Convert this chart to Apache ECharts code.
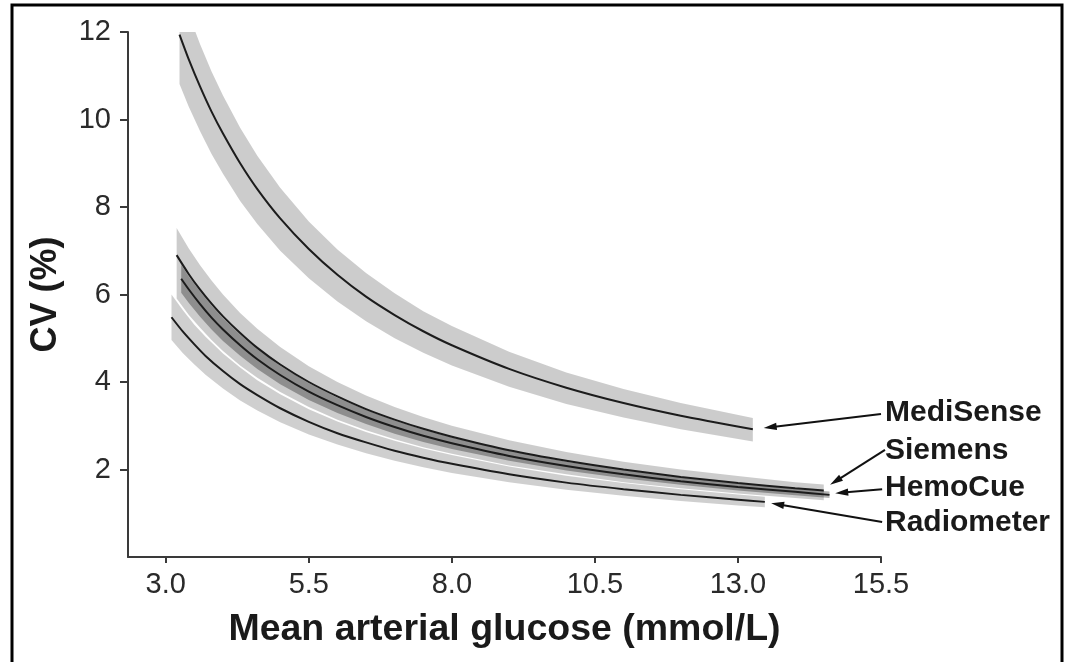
<!DOCTYPE html>
<html>
<head>
<meta charset="utf-8">
<script src="https://cdn.jsdelivr.net/npm/echarts@6/dist/echarts.min.js"></script>
<style>
  html, body { margin: 0; padding: 0; background: #ffffff; }
  #chart { width: 1068px; height: 662px; }
</style>
</head>
<body>
<div id="chart"></div>
<script>
// Axis ticks
const xTicks = [3.0, 5.5, 8.0, 10.5, 13.0, 15.5];
const yTicks = [2, 4, 6, 8, 10, 12];

// MediSense: mean arterial glucose (mmol/L), fitted CV (%) and its band
const mediSenseGlucose = [3.24, 3.4, 3.6, 3.8, 4.0, 4.3, 4.6, 5.0, 5.5, 6.0, 6.5, 7.0, 7.5, 8.0, 9.0, 10.0, 11.0, 12.0, 13.26];
const mediSenseCV      = [11.94, 11.38, 10.75, 10.18, 9.68, 9.00, 8.41, 7.74, 7.04, 6.45, 5.95, 5.53, 5.16, 4.84, 4.30, 3.87, 3.52, 3.23, 2.92];
const mediSenseLow     = [10.81, 10.30, 9.73, 9.21, 8.76, 8.14, 7.61, 7.00, 6.37, 5.84, 5.39, 5.00, 4.67, 4.38, 3.89, 3.50, 3.19, 2.92, 2.64];
const mediSenseHigh    = [13.02, 12.41, 11.72, 11.10, 10.55, 9.81, 9.17, 8.44, 7.67, 7.03, 6.49, 6.03, 5.62, 5.28, 4.69, 4.22, 3.84, 3.52, 3.18];

// Siemens
const siemensGlucose = [3.19, 3.4, 3.6, 3.8, 4.0, 4.3, 4.6, 5.0, 5.5, 6.0, 6.5, 7.0, 7.5, 8.0, 9.0, 10.0, 11.0, 12.0, 13.0, 14.0, 14.5];
const siemensCV      = [6.90, 6.47, 6.11, 5.79, 5.50, 5.12, 4.78, 4.40, 4.00, 3.67, 3.38, 3.14, 2.93, 2.75, 2.44, 2.20, 2.00, 1.83, 1.69, 1.57, 1.52];
const siemensLow     = [5.91, 5.54, 5.24, 4.96, 4.71, 4.38, 4.10, 3.77, 3.43, 3.14, 2.90, 2.69, 2.51, 2.36, 2.09, 1.89, 1.71, 1.57, 1.45, 1.35, 1.30];
const siemensHigh    = [7.52, 7.06, 6.67, 6.32, 6.00, 5.58, 5.22, 4.80, 4.36, 4.00, 3.69, 3.43, 3.20, 3.00, 2.67, 2.40, 2.18, 2.00, 1.85, 1.71, 1.66];

// HemoCue
const hemoCueGlucose = [3.27, 3.4, 3.6, 3.8, 4.0, 4.3, 4.6, 5.0, 5.5, 6.0, 6.5, 7.0, 7.5, 8.0, 9.0, 10.0, 11.0, 12.0, 13.0, 14.0, 14.6];
const hemoCueCV      = [6.36, 6.12, 5.78, 5.47, 5.20, 4.84, 4.52, 4.16, 3.78, 3.47, 3.20, 2.97, 2.77, 2.60, 2.31, 2.08, 1.89, 1.73, 1.60, 1.49, 1.42];
const hemoCueLow     = [6.04, 5.81, 5.49, 5.20, 4.94, 4.60, 4.30, 3.95, 3.59, 3.29, 3.04, 2.82, 2.63, 2.47, 2.20, 1.98, 1.80, 1.65, 1.52, 1.41, 1.35];
const hemoCueHigh    = [6.68, 6.42, 6.07, 5.75, 5.46, 5.08, 4.75, 4.37, 3.97, 3.64, 3.36, 3.12, 2.91, 2.73, 2.43, 2.18, 1.99, 1.82, 1.68, 1.56, 1.50];

// Radiometer
const radiometerGlucose = [3.10, 3.3, 3.5, 3.7, 4.0, 4.3, 4.6, 5.0, 5.5, 6.0, 6.5, 7.0, 7.5, 8.0, 9.0, 10.0, 11.0, 12.0, 13.0, 13.47];
const radiometerCV      = [5.48, 5.15, 4.86, 4.59, 4.25, 3.95, 3.70, 3.40, 3.09, 2.83, 2.62, 2.43, 2.27, 2.13, 1.89, 1.70, 1.55, 1.42, 1.31, 1.26];
const radiometerLow     = [4.96, 4.66, 4.40, 4.16, 3.85, 3.58, 3.35, 3.08, 2.80, 2.57, 2.37, 2.20, 2.05, 1.92, 1.71, 1.54, 1.40, 1.28, 1.18, 1.14];
const radiometerHigh    = [6.00, 5.64, 5.31, 5.03, 4.65, 4.33, 4.04, 3.72, 3.38, 3.10, 2.86, 2.66, 2.48, 2.33, 2.07, 1.86, 1.69, 1.55, 1.43, 1.38];

// Callout text and arrows (data units: glucose, CV)
const calloutNames = ['MediSense', 'Siemens', 'HemoCue', 'Radiometer'];
const calloutTextAt = [[15.57, 3.29], [15.57, 2.42], [15.57, 1.58], [15.57, 0.78]];
const calloutTail   = [[15.50, 3.27], [15.57, 2.45], [15.52, 1.55], [15.52, 0.80]];
const calloutHead   = [[13.45, 2.95], [14.61, 1.65], [14.70, 1.46], [13.58, 1.23]];

const FONT = '"Liberation Sans", Arial, Helvetica, sans-serif';
const INK = '#1c1c1c';
const AXIS = '#3a3a3a';

function pairs(xs, ys) { return xs.map((x, i) => [x, ys[i]]); }

// Shaded band between the low and high curves, drawn as one polygon
function bandSeries(id, xs, lo, hi, fill, z) {
  return {
    name: id + ' band', type: 'custom', silent: true, z: z,
    data: [[xs[0], lo[0]]],
    encode: { x: 0, y: 1 },
    renderItem: function (params, api) {
      const pts = [];
      for (let i = 0; i < xs.length; i++) pts.push(api.coord([xs[i], hi[i]]));
      for (let i = xs.length - 1; i >= 0; i--) pts.push(api.coord([xs[i], lo[i]]));
      const cs = params.coordSys;
      return {
        type: 'polygon',
        shape: { points: pts },
        style: { fill: fill },
        clipPath: { type: 'rect', shape: { x: cs.x, y: cs.y, width: cs.width, height: cs.height } }
      };
    }
  };
}

function curveSeries(id, xs, ys) {
  return {
    name: id, type: 'line', data: pairs(xs, ys),
    symbol: 'none', smooth: 0.25,
    lineStyle: { color: INK, width: 2 }, z: 10
  };
}

const chart = echarts.init(document.getElementById('chart'), null, { renderer: 'canvas' });

chart.setOption({
  animation: false,
  backgroundColor: '#ffffff',
  grid: { left: 128, right: 187, top: 32, bottom: 105, containLabel: false },
  xAxis: {
    type: 'value', min: 2.34, max: 15.5,
    name: 'Mean arterial glucose (mmol/L)',
    nameLocation: 'middle', nameGap: 54,
    nameTextStyle: { fontFamily: FONT, fontSize: 37.5, fontWeight: 'bold', color: '#1a1a1a' },
    axisLine: { show: true, onZero: false, lineStyle: { color: AXIS, width: 2 } },
    axisTick: { show: true, length: 6, customValues: xTicks, lineStyle: { color: AXIS, width: 2 } },
    axisLabel: {
      customValues: xTicks, margin: 13, fontFamily: FONT, fontSize: 29, color: '#2a2a2a',
      formatter: v => Number(v).toFixed(1)
    },
    splitLine: { show: false }
  },
  yAxis: {
    type: 'value', min: 0, max: 12,
    name: 'CV (%)',
    nameLocation: 'middle', nameGap: 64,
    nameTextStyle: { fontFamily: FONT, fontSize: 36, fontWeight: 'bold', color: '#1a1a1a' },
    axisLine: { show: true, onZero: false, lineStyle: { color: AXIS, width: 2 } },
    axisTick: { show: true, length: 8, customValues: yTicks, lineStyle: { color: AXIS, width: 2 } },
    axisLabel: {
      customValues: yTicks, margin: 17, fontFamily: FONT, fontSize: 29, color: '#2a2a2a',
      formatter: v => String(v)
    },
    splitLine: { show: false }
  },
  series: [
    bandSeries('MediSense', mediSenseGlucose, mediSenseLow, mediSenseHigh, 'rgba(0,0,0,0.2)', 1),
    bandSeries('Radiometer', radiometerGlucose, radiometerLow, radiometerHigh, 'rgba(0,0,0,0.19)', 2),
    bandSeries('Siemens', siemensGlucose, siemensLow, siemensHigh, 'rgba(0,0,0,0.2)', 3),
    bandSeries('HemoCue', hemoCueGlucose, hemoCueLow, hemoCueHigh, 'rgba(0,0,0,0.3)', 4),
    curveSeries('MediSense', mediSenseGlucose, mediSenseCV),
    curveSeries('Siemens', siemensGlucose, siemensCV),
    curveSeries('HemoCue', hemoCueGlucose, hemoCueCV),
    curveSeries('Radiometer', radiometerGlucose, radiometerCV)
  ]
});

// Callouts and frame, placed through the grid's own scales
function toPx(p) { return chart.convertToPixel({ gridIndex: 0 }, p); }

const graphics = [
  {
    type: 'rect', silent: true, z: 100,
    shape: { x: 12, y: 5, width: 1050, height: 700 },
    style: { fill: 'none', stroke: '#000000', lineWidth: 3 }
  }
];

calloutNames.forEach((name, i) => {
  const t = toPx(calloutTextAt[i]);
  const a = toPx(calloutTail[i]);
  const b = toPx(calloutHead[i]);
  const dx = b[0] - a[0], dy = b[1] - a[1];
  const len = Math.hypot(dx, dy);
  const ux = dx / len, uy = dy / len;
  const headLen = 13, headHalf = 3.6;
  const baseX = b[0] - ux * headLen, baseY = b[1] - uy * headLen;
  graphics.push({
    type: 'line', silent: true, z: 50,
    shape: { x1: a[0], y1: a[1], x2: baseX + ux * 2, y2: baseY + uy * 2 },
    style: { stroke: '#111111', lineWidth: 2 }
  });
  graphics.push({
    type: 'polygon', silent: true, z: 50,
    shape: { points: [
      [b[0], b[1]],
      [baseX - uy * headHalf, baseY + ux * headHalf],
      [baseX + uy * headHalf, baseY - ux * headHalf]
    ] },
    style: { fill: '#111111' }
  });
  graphics.push({
    type: 'text', silent: true, z: 50,
    x: t[0], y: t[1],
    style: {
      text: name, fontFamily: FONT, fontSize: 30, fontWeight: 'bold',
      fill: '#1a1a1a', textAlign: 'left', textVerticalAlign: 'middle'
    }
  });
});

chart.setOption({ graphic: graphics });
</script>
</body>
</html>
